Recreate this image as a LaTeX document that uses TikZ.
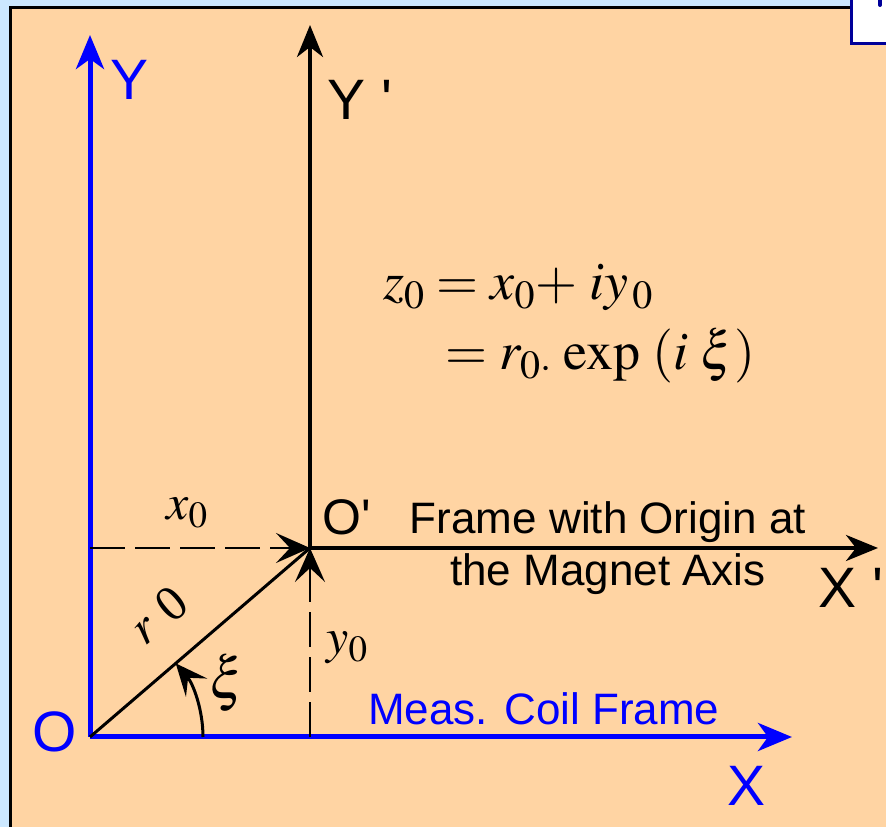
\documentclass[tikz,border=0pt]{standalone}
\usepackage{mathptmx}
\usepackage{fontspec}
\setmainfont{Liberation Serif}
\setsansfont{Liberation Sans}[Ligatures=TeXOff]
\usetikzlibrary{arrows.meta, positioning}
\definecolor{skyback}{HTML}{CCE8FF}
\definecolor{peach}{HTML}{FFD4A3}
\definecolor{coilblue}{HTML}{0000FF}
\definecolor{navy}{HTML}{000099}

\begin{document}
\begin{tikzpicture}[
  x=1pt, y=1pt,
  blueaxis/.style={draw=coilblue, line width=5pt, -{Stealth[length=34pt, width=28pt, inset=10pt]}},
  blackaxis/.style={draw=black, line width=4pt, -{Stealth[length=32pt, width=26pt, inset=10pt]}},
  radline/.style={draw=black, line width=3pt},
  dasharr/.style={draw=black, line width=2.5pt, dash pattern=on 35pt off 10pt,
                  -{Stealth[length=34pt, width=30pt, inset=14pt]}},
  arcarr/.style={draw=black, line width=3pt, -{Stealth[length=32pt, width=28pt, inset=13pt]}},
  axlabel/.style={font=\sffamily\fontsize{57}{60}\selectfont, inner sep=0pt},
  oplabel/.style={font=\sffamily\fontsize{50}{55}\selectfont, inner sep=0pt},
  frametext/.style={font=\sffamily\fontsize{44}{52}\selectfont, inner sep=0pt, align=center},
  mathlabel/.style={font=\fontsize{50}{60}\selectfont, inner sep=0pt},
  eqtext/.style={font=\fontsize{54}{64}\selectfont, inner sep=0pt}
]
  \useasboundingbox (0,0) rectangle (886,827);
  \clip (0,0) rectangle (886,827);

  % panel
  \fill[skyback] (0,0) rectangle (886,827);
  \filldraw[fill=peach, draw=black, line width=3pt] (10.5,-20) rectangle (920,819.5);
  \filldraw[fill=white, draw=navy, line width=3pt] (851.5,783.5) rectangle (920,850);
  \draw[navy, line width=4pt, line cap=round] (880,822) -- (880,840);

  % points
  \coordinate (o) at (90,90);
  \coordinate (op) at (310,279);
  \coordinate (ytip) at (90,792);
  \coordinate (xtip) at (792,90);
  \coordinate (yptip) at (310,802);
  \coordinate (xptip) at (878,279);
  \coordinate (xfoot) at (90,279);
  \coordinate (yfoot) at (310,90);
  \coordinate (arcstart) at (203,90);

  % frames
  \draw[blueaxis] (o) -- (ytip);
  \draw[blueaxis] (o) -- (xtip);
  \draw[blackaxis] (op) -- (yptip);
  \draw[blackaxis] (op) -- (xptip);
  \draw[radline] (o) -- (op);
  \draw[dasharr] (xfoot) -- (op);
  \draw[dasharr] (yfoot) -- (op);
  \draw[arcarr] (arcstart) arc[start angle=0, end angle=40.66, radius=113];

  % axis labels
  \node[axlabel, text=coilblue] (ylab) at (130,747) {Y};
  \node[axlabel, anchor=base west] (yplab) at (327,707) {Y '};
  \node[axlabel, text=coilblue] (olab) at (55,95) {O};
  \node[oplabel, anchor=base west] (oplab) at (322,292) {O'};
  \node[axlabel, text=coilblue, anchor=base west] (xlab) at (727,21) {X};
  \node[axlabel, anchor=base west] (xplab) at (818,219) {X '};

  % frame texts
  \node[frametext] (ftxt) at (608,278.5) {Frame with Origin at\\the Magnet Axis};
  \node[frametext, text=coilblue, anchor=base west] (meas) at (368,102) {Meas. Coil Frame};

  % quantities
  \node[mathlabel] (x0lab) at (187,314) {$x_0$};
  \node[mathlabel] (y0lab) at (347,179) {$y_0$};
  \node[mathlabel, rotate=40] (r0lab) at (158,212) {$r$\;0};
  \node[mathlabel, font=\fontsize{58}{64}\selectfont] (xilab) at (227,144) {$\xi$};

  % equation
  \node[eqtext, anchor=base west] (eq1) at (383,527) {$z_0 = x_0{+}\;iy_{\,0}$};
  \node[eqtext, anchor=base west] (eq2) at (445,457) {$= r_{0\cdot}\,\exp\;(i\;\xi)$};
\end{tikzpicture}
\end{document}
